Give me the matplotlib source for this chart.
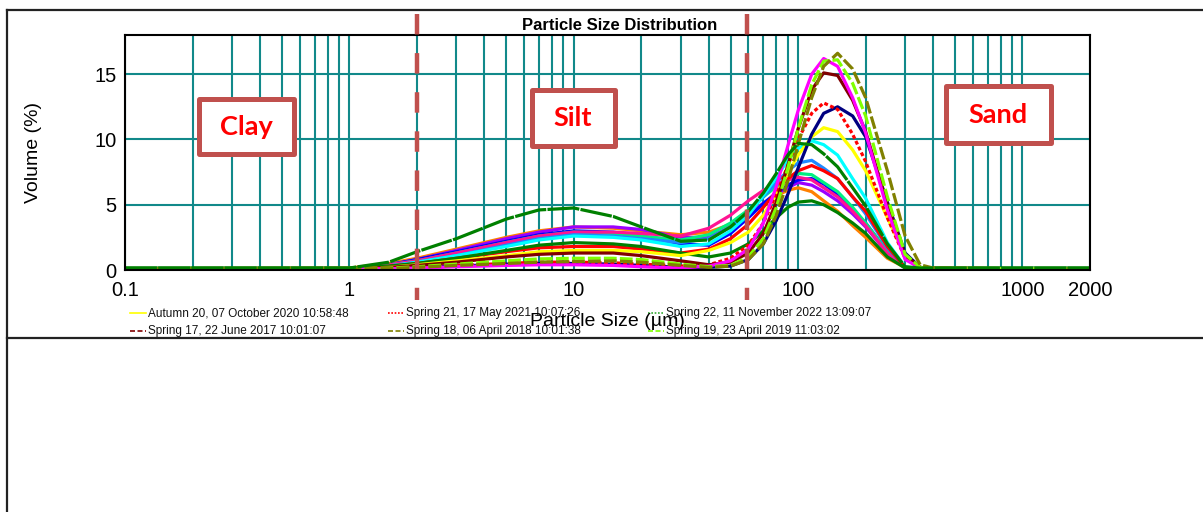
import matplotlib
matplotlib.use('Agg')
import matplotlib.pyplot as plt
from matplotlib.patches import Rectangle
from matplotlib.lines import Line2D
from matplotlib.ticker import LogLocator, NullFormatter, FixedLocator, FixedFormatter
import matplotlib.transforms as mtransforms

# ---------------- data ----------------
sizes = [0.1, 1, 1.5, 2, 3, 5, 7, 10, 15, 20, 30, 40, 50, 60, 70, 80, 90, 100,
         115, 130, 150, 175, 200, 250, 300, 350, 400, 1000, 2000]

autumn20 = [0.1, 0.1, 0.2, 0.4, 0.7, 1.1, 1.4, 1.5, 1.5, 1.4, 1.1, 1.5, 2.1, 2.9, 4.2, 5.8, 7.4, 8.8, 10.2, 10.9, 10.6, 9.2, 7.6, 4.0, 1.1, 0.2, 0.1, 0.1, 0.1]
spring21 = [0.1, 0.1, 0.1, 0.2, 0.35, 0.5, 0.6, 0.6, 0.55, 0.45, 0.3, 0.4, 0.9, 1.9, 3.6, 5.8, 8.0, 10.0, 12.0, 12.8, 12.3, 10.4, 8.3, 4.0, 0.9, 0.2, 0.1, 0.1, 0.1]
spring22 = [0.15, 0.15, 0.6, 1.4, 2.4, 3.9, 4.6, 4.75, 4.1, 3.3, 2.2, 2.3, 3.3, 4.5, 5.9, 7.4, 8.8, 9.7, 9.6, 8.9, 7.9, 6.3, 4.9, 2.0, 0.25, 0.15, 0.15, 0.15, 0.15]
spring17 = [0.1, 0.1, 0.2, 0.35, 0.6, 1.0, 1.2, 1.3, 1.3, 1.1, 0.7, 0.4, 0.6, 1.3, 2.8, 5.2, 8.0, 10.8, 13.8, 15.1, 14.9, 13.0, 10.6, 5.0, 1.1, 0.2, 0.1, 0.1, 0.1]
spring18 = [0.1, 0.1, 0.1, 0.2, 0.35, 0.5, 0.6, 0.65, 0.7, 0.6, 0.35, 0.2, 0.3, 0.8, 2.0, 4.2, 6.8, 9.6, 13.2, 15.6, 16.6, 15.4, 13.2, 7.6, 2.6, 0.4, 0.15, 0.1, 0.1]
spring19 = [0.1, 0.1, 0.15, 0.25, 0.45, 0.7, 0.85, 0.9, 0.9, 0.8, 0.45, 0.25, 0.35, 1.0, 2.4, 4.8, 7.8, 10.8, 14.2, 16.0, 16.1, 14.3, 11.8, 5.6, 1.2, 0.2, 0.1, 0.1, 0.1]
magenta_s = [0.1, 0.1, 0.1, 0.15, 0.25, 0.35, 0.4, 0.4, 0.35, 0.25, 0.15, 0.3, 0.7, 1.6, 3.6, 6.4, 9.5, 12.2, 15.0, 16.2, 15.6, 13.2, 10.5, 4.6, 0.8, 0.15, 0.1, 0.1, 0.1]
navy_s = [0.1, 0.1, 0.1, 0.2, 0.3, 0.45, 0.5, 0.5, 0.45, 0.35, 0.2, 0.2, 0.3, 0.8, 2.0, 3.8, 5.8, 7.8, 10.4, 12.0, 12.5, 11.8, 10.2, 5.2, 1.3, 0.2, 0.1, 0.1, 0.1]
cyan_s = [0.1, 0.1, 0.3, 0.6, 1.1, 1.8, 2.3, 2.6, 2.5, 2.3, 1.8, 2.0, 3.0, 4.2, 5.7, 7.1, 8.4, 9.3, 9.9, 9.6, 8.8, 7.0, 5.5, 2.1, 0.25, 0.1, 0.1, 0.1, 0.1]
green_low = [0.15, 0.15, 0.3, 0.5, 0.9, 1.5, 1.9, 2.1, 2.0, 1.8, 1.3, 1.0, 1.3, 2.0, 3.0, 4.0, 4.8, 5.2, 5.3, 5.0, 4.4, 3.6, 2.8, 1.0, 0.15, 0.15, 0.15, 0.15, 0.15]
purple_s = [0.1, 0.1, 0.4, 0.8, 1.5, 2.4, 2.9, 3.3, 3.3, 3.1, 2.5, 2.5, 3.3, 4.2, 5.1, 5.8, 6.3, 6.7, 6.5, 6.0, 5.3, 4.3, 3.3, 1.3, 0.15, 0.1, 0.1, 0.1, 0.1]
orange_s = [0.1, 0.15, 0.5, 0.9, 1.6, 2.5, 3.0, 3.3, 3.2, 3.0, 2.7, 2.9, 3.5, 4.3, 5.1, 5.7, 6.1, 6.3, 6.0, 5.3, 4.5, 3.4, 2.5, 0.9, 0.2, 0.15, 0.15, 0.1, 0.1]
pink_s = [0.1, 0.1, 0.4, 0.7, 1.3, 2.1, 2.6, 2.9, 2.9, 2.8, 2.6, 3.2, 4.2, 5.3, 6.1, 6.6, 6.9, 7.1, 6.9, 6.3, 5.6, 4.5, 3.4, 1.3, 0.15, 0.1, 0.1, 0.1, 0.1]
springgreen_s = [0.1, 0.1, 0.4, 0.7, 1.3, 2.1, 2.6, 2.9, 2.8, 2.6, 2.3, 2.7, 3.6, 4.6, 5.6, 6.4, 7.0, 7.4, 7.3, 6.7, 6.0, 4.8, 3.6, 1.4, 0.15, 0.1, 0.1, 0.1, 0.1]
dodger_s = [0.1, 0.1, 0.3, 0.6, 1.1, 1.9, 2.4, 2.7, 2.6, 2.4, 2.1, 2.4, 3.3, 4.4, 5.6, 6.7, 7.6, 8.2, 8.4, 7.8, 7.0, 5.6, 4.3, 1.7, 0.2, 0.1, 0.1, 0.1, 0.1]
blue_s = [0.1, 0.1, 0.4, 0.8, 1.4, 2.2, 2.7, 3.0, 2.9, 2.6, 2.0, 1.9, 2.8, 4.0, 5.1, 5.9, 6.5, 6.9, 7.0, 6.6, 5.8, 4.6, 3.6, 1.4, 0.15, 0.1, 0.1, 0.1, 0.1]
red_s = [0.1, 0.1, 0.3, 0.5, 0.9, 1.4, 1.7, 1.8, 1.8, 1.6, 1.3, 1.6, 2.4, 3.5, 4.8, 6.0, 7.0, 7.6, 8.0, 7.6, 7.0, 5.6, 4.5, 1.8, 0.2, 0.1, 0.1, 0.1, 0.1]

legend_labels = ["Autumn 20, 07 October 2020 10:58:48",
                 "Spring 21, 17 May 2021 10:07:26",
                 "Spring 22, 11 November 2022 13:09:07",
                 "Spring 17, 22 June 2017 10:01:07",
                 "Spring 18, 06 April 2018 10:01:38",
                 "Spring 19, 23 April 2019 11:03:02"]

xtick_vals = [0.1, 1, 10, 100, 1000, 2000]
xtick_labels = ["0.1", "1", "10", "100", "1000", "2000"]
ytick_vals = [0, 5, 10, 15]
boundaries = [2, 59]
zones = ["Clay", "Silt", "Sand"]

# ---------------- figure ----------------
W, H = 1203, 512
fig = plt.figure(figsize=(W / 100, H / 100), dpi=100)
fig.patch.set_facecolor('white')


def fx(px):
    return px / W


def fy(py):
    return 1 - py / H


sans = ['Liberation Sans', 'DejaVu Sans']
grid_c = '#11898A'
box_c = '#C0504D'

ax = fig.add_axes([fx(125), fy(270), fx(1090) - fx(125), fy(35) - fy(270)])
ax.set_xscale('log')
ax.set_xlim(0.1, 2000)
ax.set_ylim(0, 18)
ax.xaxis.set_major_locator(FixedLocator(xtick_vals))
ax.xaxis.set_major_formatter(FixedFormatter(xtick_labels))
ax.xaxis.set_minor_locator(LogLocator(base=10, subs=[2, 3, 4, 5, 6, 7, 8, 9], numticks=20))
ax.xaxis.set_minor_formatter(NullFormatter())
ax.set_yticks(ytick_vals)
ax.grid(True, which='both', axis='x', color=grid_c, lw=1.5)
ax.grid(True, which='major', axis='y', color=grid_c, lw=1.5)
ax.set_axisbelow(True)
ax.tick_params(which='both', length=0)
ax.tick_params(axis='x', pad=8)
ax.tick_params(axis='y', pad=6)
for lab in ax.get_xticklabels() + ax.get_yticklabels():
    lab.set_family(sans)
    lab.set_fontsize(14.5)
for sp in ax.spines.values():
    sp.set_color('black')
    sp.set_linewidth(1.5)

ax.set_ylabel('Volume (%)', fontsize=14, family=sans)
ax.yaxis.set_label_coords((42 - 125) / 965, 0.5)

lw = 2.3
series = [
    (orange_s, '#FF8000', '-'),
    (purple_s, '#9B00FF', '-'),
    (blue_s, '#0000FF', '-'),
    (springgreen_s, '#00F080', '-'),
    (pink_s, '#FF1493', '-'),
    (dodger_s, '#1E88FF', '-'),
    (cyan_s, '#00FFFF', '-'),
    (red_s, '#FF0000', '-'),
    (green_low, '#007F00', '-'),
    (autumn20, '#FFFF00', '-'),
    (navy_s, '#000080', '-'),
    (spring21, '#FF0000', (0, (1.2, 0.8))),
    (spring17, '#800000', '-'),
    (magenta_s, '#FF00FF', '-'),
    (spring19, '#7FFF00', (0, (4, 1))),
    (spring18, '#808000', (0, (4, 1))),
    (spring22, '#008000', (0, (10, 0.4))),
]
for vals, col, ls in series:
    ax.plot(sizes, vals, color=col, ls=ls, lw=lw, solid_joinstyle='round')

# boundary dashed lines (x in data, y in figure)
trans = mtransforms.blended_transform_factory(ax.transData, fig.transFigure)
for b in boundaries:
    ln = Line2D([b, b], [fy(14), fy(300)], transform=trans, color=box_c, lw=3.2,
                ls=(0, (4.6, 4.2)), solid_capstyle='butt', dash_capstyle='butt', zorder=5)
    fig.add_artist(ln)

# title
fig.text(fx(620), fy(25), 'Particle Size Distribution', ha='center', va='center',
         fontsize=12, fontweight='bold', family=sans)

# zone boxes
boxes = [(198.5, 98.5, 293.5, 153.5), (531.5, 89.5, 614.5, 145.5), (945.5, 85.5, 1050.5, 142.5)]
for name, (x0, y0, x1, y1) in zip(zones, boxes):
    r = Rectangle((fx(x0), fy(y1)), fx(x1) - fx(x0), fy(y0) - fy(y1), transform=fig.transFigure,
                  facecolor='white', edgecolor=box_c, lw=3.6, joinstyle='round', zorder=6)
    fig.add_artist(r)
    fig.text(fx((x0 + x1) / 2), fy((y0 + y1) / 2 + 1), name, ha='center', va='center',
             color='#FF0000', fontsize=19.5, fontweight='bold', family=['Lato', 'DejaVu Sans'],
             zorder=7)

# legend area (pixel coordinates, clipped at frame line)
lax = fig.add_axes([fx(120), fy(338), fx(1000) - fx(120), fy(302) - fy(338)])
lax.set_xlim(120, 1000)
lax.set_ylim(338, 302)
lax.axis('off')
leg_styles = [('#FFFF00', '-'), ('#FF0000', (0, (1, 1))), ('#33AA33', (0, (1, 1))),
              ('#800000', (0, (3, 1.5))), ('#808000', (0, (3, 1.5))), ('#7FFF00', (0, (3, 1.5)))]
leg_pos = [(130, 313), (388, 313), (648, 313), (130, 331), (388, 331), (648, 331)]
for lab, (col, ls), (lx, ly) in zip(legend_labels, leg_styles, leg_pos):
    lax.plot([lx, lx + 16], [ly, ly], color=col, ls=ls, lw=1.2, clip_on=True)
    lax.text(lx + 18, ly, lab, ha='left', va='center', fontsize=8.5, family=sans,
             clip_on=True, color='#111111')

fig.text(fx(607), fy(321), 'Particle Size (µm)', ha='center', va='center',
         fontsize=14, family=sans, zorder=8)

# outer frame lines
frame_kw = dict(transform=fig.transFigure, color='#222222', lw=1.6)
fig.add_artist(Line2D([fx(7), 1], [fy(10), fy(10)], **frame_kw))
fig.add_artist(Line2D([fx(7), fx(7)], [fy(10), 0], **frame_kw))
fig.add_artist(Line2D([fx(7), 1], [fy(338), fy(338)], **frame_kw))

fig.savefig('out.png', dpi=100, facecolor='white')
